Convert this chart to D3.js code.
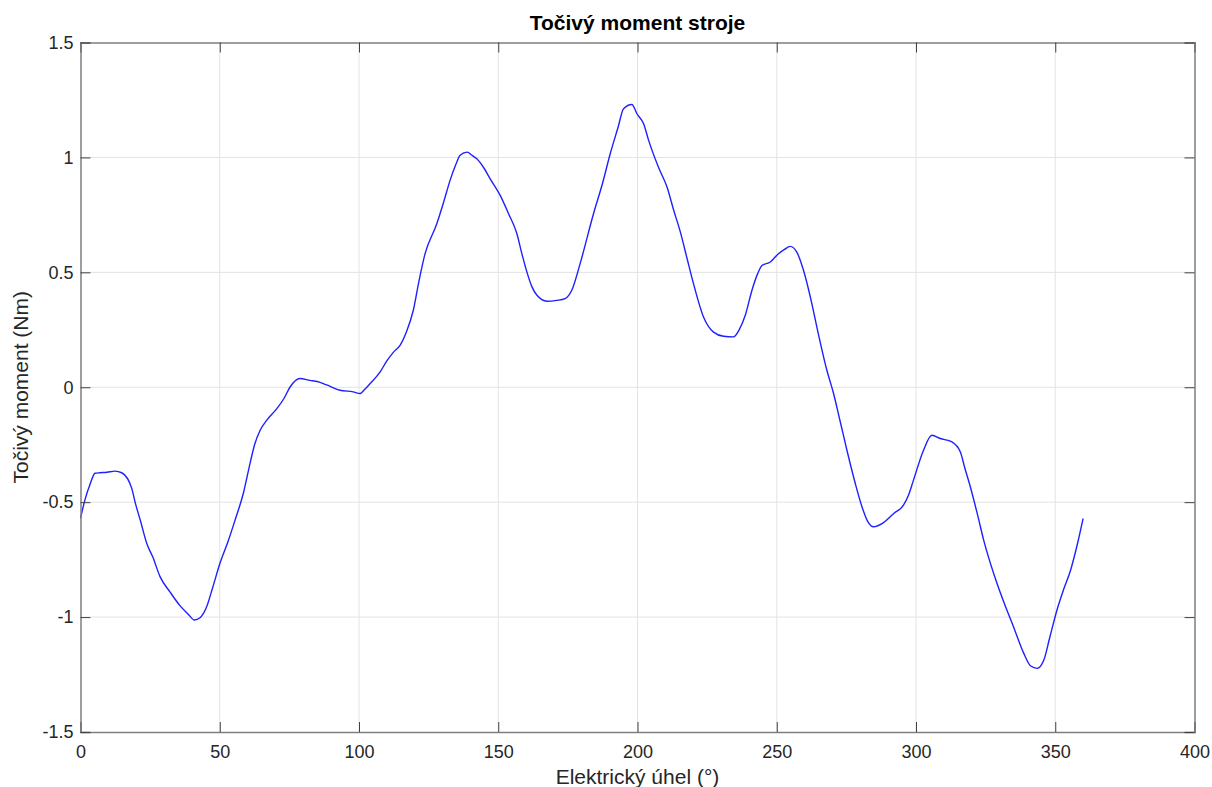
<!DOCTYPE html>
<html>
<head>
<meta charset="utf-8">
<script src="https://cdn.jsdelivr.net/npm/d3@7"></script>
<style>
  body { margin: 0; background: #fff; }
  svg { display: block; font-family: "Liberation Sans", Arial, sans-serif; }
</style>
</head>
<body>
<svg id="chart"></svg>
<script>
// angle in degrees
const angle = [0, 1.6, 3.5, 5.2, 7, 9.5, 12.4, 14.8, 18.4, 19.6, 21.5, 23.8, 26, 28.6, 32.1, 35.7, 38.5, 40.9, 42.9,
  45.3, 47.5, 50.1, 53, 55.5, 58.5, 60.9, 62.5, 64.5, 66.9, 70.5, 73, 75.2, 78.8, 82.4, 85, 88.4, 93.2, 97.9, 100.4,
  102, 104, 107.6, 110, 112.4, 114.8, 117, 119.5, 121.5, 123.7, 127.9, 130.5, 132.7, 134.8, 136.3, 138.9, 140.5,
  142.3, 144.8, 147.1, 150.7, 153.7, 156.7, 158.5, 160.3, 162, 163.9, 167.5, 171, 174, 176.4, 179.4, 184.2, 187.5,
  190.2, 193, 195, 198, 199.8, 202.2, 204, 207.5, 210.6, 213, 215.4, 217.8, 220.1, 223.7, 227.3, 230.9, 234.5, 236.5,
  238.7, 241.1, 243, 244.7, 247.7, 250.6, 252.8, 254.8, 257.2, 259.6, 262.6, 264.4, 268, 270.4, 272.8, 275.2, 278.2,
  280.6, 282.5, 284.8, 287.8, 292, 295.5, 297.3, 299.1, 302.7, 305.7, 308.7, 312.9, 315.9, 317.5, 319.5, 322, 324.3,
  329.1, 332, 335, 338.7, 341.2, 343.5, 345.9, 348, 350.6, 353, 355.5, 358, 360];

// torque in Nm
const torque = [-0.57, -0.49, -0.42, -0.374, -0.372, -0.37, -0.365, -0.372, -0.44, -0.5, -0.58, -0.68, -0.74, -0.825,
  -0.89, -0.95, -0.985, -1.013, -1.003, -0.955, -0.87, -0.765, -0.67, -0.578, -0.46, -0.33, -0.25, -0.187, -0.143,
  -0.093, -0.05, 0.0, 0.038, 0.03, 0.025, 0.01, -0.013, -0.02, -0.027, -0.01, 0.016, 0.067, 0.115, 0.153, 0.183,
  0.24, 0.335, 0.46, 0.58, 0.71, 0.81, 0.9, 0.97, 1.009, 1.023, 1.01, 0.994, 0.955, 0.907, 0.835, 0.755, 0.668, 0.58,
  0.501, 0.44, 0.4, 0.374, 0.378, 0.386, 0.422, 0.538, 0.755, 0.89, 1.016, 1.13, 1.212, 1.23, 1.19, 1.146, 1.074,
  0.958, 0.871, 0.77, 0.675, 0.56, 0.451, 0.306, 0.24, 0.222, 0.219, 0.25, 0.313, 0.422, 0.49, 0.53, 0.545, 0.581,
  0.6, 0.613, 0.588, 0.509, 0.364, 0.262, 0.074, -0.027, -0.15, -0.274, -0.419, -0.52, -0.58, -0.607, -0.593, -0.549,
  -0.513, -0.47, -0.404, -0.274, -0.209, -0.223, -0.238, -0.281, -0.35, -0.433, -0.55, -0.665, -0.854, -0.95, -1.042,
  -1.158, -1.213, -1.223, -1.187, -1.09, -0.97, -0.88, -0.796, -0.68, -0.571];

const xTicks = [0, 50, 100, 150, 200, 250, 300, 350, 400];
const yTicks = [-1.5, -1, -0.5, 0, 0.5, 1, 1.5];

const width = 1212, height = 787;
const margin = { top: 42.5, right: 17.5, bottom: 55, left: 80.5 };
const innerW = width - margin.left - margin.right;
const innerH = height - margin.top - margin.bottom;

const svg = d3.select('#chart')
  .attr('width', width)
  .attr('height', height);

const x = d3.scaleLinear().domain([0, 400]).range([0, innerW]);
const y = d3.scaleLinear().domain([-1.5, 1.5]).range([innerH, 0]);

const g = svg.append('g')
  .attr('transform', 'translate(' + margin.left + ',' + margin.top + ')');

// grid
g.append('g').selectAll('line')
  .data(xTicks.slice(1, -1))
  .enter().append('line')
  .attr('x1', d => x(d)).attr('x2', d => x(d))
  .attr('y1', 0).attr('y2', innerH)
  .attr('stroke', '#e3e3e3').attr('stroke-width', 1);

g.append('g').selectAll('line')
  .data(yTicks.slice(1, -1))
  .enter().append('line')
  .attr('y1', d => y(d)).attr('y2', d => y(d))
  .attr('x1', 0).attr('x2', innerW)
  .attr('stroke', '#e3e3e3').attr('stroke-width', 1);

// data line
const points = angle.map((a, i) => [a, torque[i]]);
const line = d3.line()
  .x(d => x(d[0]))
  .y(d => y(d[1]))
  .curve(d3.curveMonotoneX);

g.append('path')
  .datum(points)
  .attr('fill', 'none')
  .attr('stroke', '#2020ff')
  .attr('stroke-width', 1.4)
  .attr('d', line);

// axes: ticks inward, box around the plot
const axisColor = '#7f7f7f';
const tickLen = 10;
const plain = d => String(d);   // hyphen minus like the original

const axBottom = g.append('g').attr('transform', 'translate(0,' + innerH + ')')
  .call(d3.axisBottom(x).tickValues(xTicks).tickSize(-tickLen).tickPadding(13).tickFormat(plain));
const axTop = g.append('g')
  .call(d3.axisTop(x).tickValues(xTicks).tickSize(-tickLen).tickFormat(''));
const axLeft = g.append('g')
  .call(d3.axisLeft(y).tickValues(yTicks).tickSize(-tickLen).tickPadding(7).tickFormat(plain));
const axRight = g.append('g').attr('transform', 'translate(' + innerW + ',0)')
  .call(d3.axisRight(y).tickValues(yTicks).tickSize(-tickLen).tickFormat(''));

[axBottom, axTop, axLeft, axRight].forEach(a => {
  a.select('.domain').attr('stroke', axisColor).attr('stroke-width', 1.5);
  a.selectAll('.tick line').attr('stroke', '#404040').attr('stroke-width', 1);
  a.selectAll('.tick text').attr('fill', '#262626').style('font-size', '18px');
});

// titles
svg.append('text')
  .attr('x', margin.left + innerW / 2)
  .attr('y', 30)
  .attr('text-anchor', 'middle')
  .style('font-size', '21px')
  .style('font-weight', 'bold')
  .attr('fill', '#000')
  .text('Točivý moment stroje');

svg.append('text')
  .attr('x', margin.left + innerW / 2)
  .attr('y', 784)
  .attr('text-anchor', 'middle')
  .style('font-size', '21px')
  .attr('fill', '#262626')
  .text('Elektrický úhel (°)');

svg.append('text')
  .attr('transform', 'translate(28,' + (margin.top + innerH / 2) + ') rotate(-90)')
  .attr('text-anchor', 'middle')
  .style('font-size', '21px')
  .attr('fill', '#262626')
  .text('Točivý moment (Nm)');
</script>
</body>
</html>
